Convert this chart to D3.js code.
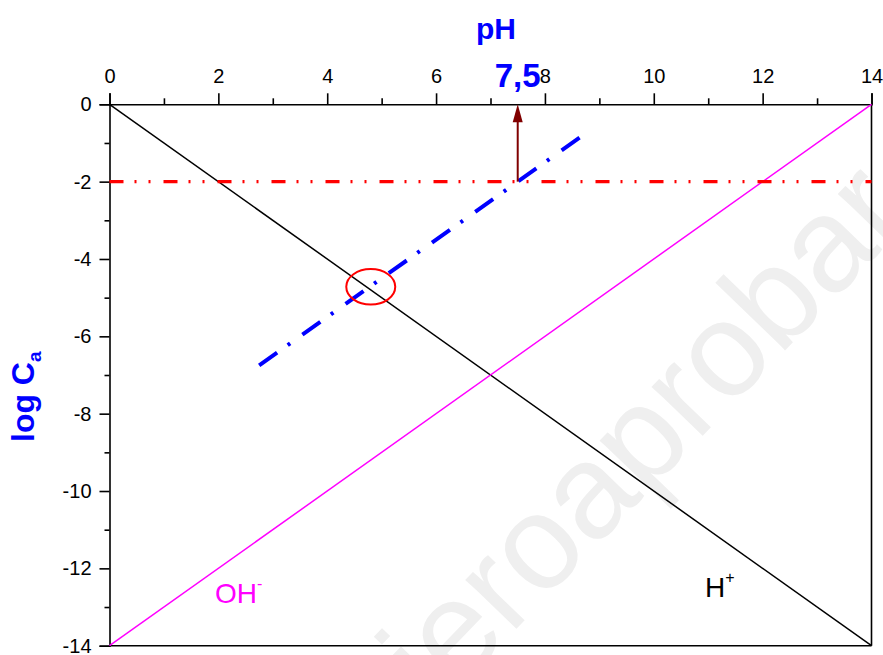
<!DOCTYPE html>
<html>
<head>
<meta charset="utf-8">
<script src="https://cdn.jsdelivr.net/npm/d3@7/dist/d3.min.js"></script>
<style>
  body { margin: 0; background: #fff; }
  svg { display: block; font-family: Arial, "Liberation Sans", sans-serif; }
</style>
</head>
<body>
<svg id="chart" width="883" height="655"></svg>
<script>
// tick values
const pHTicks = [0, 2, 4, 6, 8, 10, 12, 14];
const pHMinor = [1, 3, 5, 7, 9, 11, 13];
const logTicks = [0, -2, -4, -6, -8, -10, -12, -14];
const logMinor = [-1, -3, -5, -7, -9, -11, -13];

// lines
const hLine = [{ pH: 0, logC: 0 }, { pH: 14, logC: -14 }];
const ohLine = [{ pH: 0, logC: -14 }, { pH: 14, logC: 0 }];
const acidLevel = [{ pH: 0, logC: -2 }, { pH: 14, logC: -2 }];
const acidLine = [{ pH: 2.75, logC: -6.75 }, { pH: 8.75, logC: -0.75 }];
const arrowLine = [{ pH: 7.5, logC: -2 }, { pH: 7.5, logC: 0 }];
const crossing = { pH: 4.8, logC: -4.72, rx: 0.45, ry: 0.46 };

const svg = d3.select('#chart');

const x = d3.scaleLinear().domain([0, 14]).range([109.5, 871.5]);
const y = d3.scaleLinear().domain([0, -14]).range([104.3, 645.7]);

// faint watermark
svg.append('text')
    .attr('transform', 'translate(590,485) rotate(-46)')
    .attr('text-anchor', 'middle')
    .attr('dy', '0.35em')
    .style('font-size', '134px')
    .style('fill', '#efefef')
    .text('quieroaprobar');

const line = d3.line().x(d => x(d.pH)).y(d => y(d.logC));

// frame: bottom and right
svg.append('line')
    .attr('x1', x(0)).attr('x2', x(14))
    .attr('y1', y(-14)).attr('y2', y(-14))
    .attr('stroke', '#000').attr('stroke-width', 1.6);
svg.append('line')
    .attr('x1', x(14)).attr('x2', x(14))
    .attr('y1', y(0)).attr('y2', y(-14))
    .attr('stroke', '#000').attr('stroke-width', 1.6);

// top axis
svg.append('g')
    .attr('transform', `translate(0,${y(0)})`)
    .call(d3.axisTop(x).tickValues(pHTicks).tickSize(11).tickPadding(10).tickFormat(d3.format('d')));
svg.append('g')
    .attr('transform', `translate(0,${y(0)})`)
    .call(d3.axisTop(x).tickValues(pHMinor).tickSize(6).tickFormat(''))
    .select('.domain').remove();

// left axis
const leftAxis = svg.append('g')
    .attr('transform', `translate(${x(0)},0)`)
    .call(d3.axisLeft(y).tickValues(logTicks).tickSize(10).tickPadding(8).tickFormat(d3.format('d')));
svg.append('g')
    .attr('transform', `translate(${x(0)},0)`)
    .call(d3.axisLeft(y).tickValues(logMinor).tickSize(5).tickFormat(''))
    .select('.domain').remove();

svg.selectAll('.tick line').attr('stroke', '#000').attr('stroke-width', 1.6);
svg.selectAll('.domain').attr('stroke', '#000').attr('stroke-width', 1.6);
svg.selectAll('.tick text')
    .style('font-size', '20px')
    .style('font-family', 'Arial, "Liberation Sans", sans-serif')
    .attr('fill', '#000');
leftAxis.selectAll('.tick text').text(d => d === 0 ? '0' : '-' + Math.abs(d));

// H+ and OH- lines
svg.append('path').datum(hLine)
    .attr('d', line).attr('fill', 'none')
    .attr('stroke', '#000').attr('stroke-width', 1.5);
svg.append('path').datum(ohLine)
    .attr('d', line).attr('fill', 'none')
    .attr('stroke', '#ff00ff').attr('stroke-width', 1.5);

// acid concentration level
svg.append('path').datum(acidLevel)
    .attr('d', line).attr('fill', 'none')
    .attr('stroke', '#ff0000').attr('stroke-width', 3.3)
    .attr('stroke-dasharray', '14 11 2 12 2 13');

// acid line
svg.append('path').datum(acidLine)
    .attr('d', line).attr('fill', 'none')
    .attr('stroke', '#0000ff').attr('stroke-width', 4)
    .attr('stroke-dasharray', '22 13 3 15');

// crossing circle
svg.append('ellipse')
    .attr('cx', x(crossing.pH))
    .attr('cy', y(crossing.logC))
    .attr('rx', x(crossing.rx) - x(0))
    .attr('ry', y(-crossing.ry) - y(0))
    .attr('fill', 'none')
    .attr('stroke', '#ff0000')
    .attr('stroke-width', 2);

// arrow to pH 7.5
svg.append('line')
    .attr('x1', x(arrowLine[0].pH)).attr('y1', y(arrowLine[0].logC))
    .attr('x2', x(arrowLine[1].pH)).attr('y2', y(arrowLine[1].logC) + 16)
    .attr('stroke', '#800000').attr('stroke-width', 2);
svg.append('path')
    .attr('d', `M${x(7.5) - 5},${y(0) + 18} L${x(7.5)},${y(0)} L${x(7.5) + 5},${y(0) + 18} Z`)
    .attr('fill', '#800000');

// titles
svg.append('text')
    .attr('x', 496).attr('y', 39)
    .attr('text-anchor', 'middle')
    .style('font-size', '30px').style('font-weight', 'bold')
    .style('fill', '#0000ff')
    .text('pH');

svg.append('text')
    .attr('x', x(7.5)).attr('y', 87)
    .attr('text-anchor', 'middle')
    .style('font-size', '33px').style('font-weight', 'bold')
    .style('fill', '#0000ff')
    .text('7,5');

const yTitle = svg.append('text')
    .attr('transform', 'translate(34,442) rotate(-90)')
    .style('font-size', '32px').style('font-weight', 'bold')
    .style('fill', '#0000ff');
yTitle.append('tspan').text('log C');
yTitle.append('tspan').attr('dy', 7).style('font-size', '19px').text('a');

// species labels
const oh = svg.append('text')
    .attr('x', 215).attr('y', 603)
    .style('font-size', '28px')
    .style('fill', '#ff00ff');
oh.append('tspan').text('OH');
oh.append('tspan').attr('dy', -14).style('font-size', '16px').text('-');

const hp = svg.append('text')
    .attr('x', 705).attr('y', 597)
    .style('font-size', '28px')
    .style('fill', '#000');
hp.append('tspan').text('H');
hp.append('tspan').attr('dy', -14).style('font-size', '16px').text('+');
</script>
</body>
</html>
